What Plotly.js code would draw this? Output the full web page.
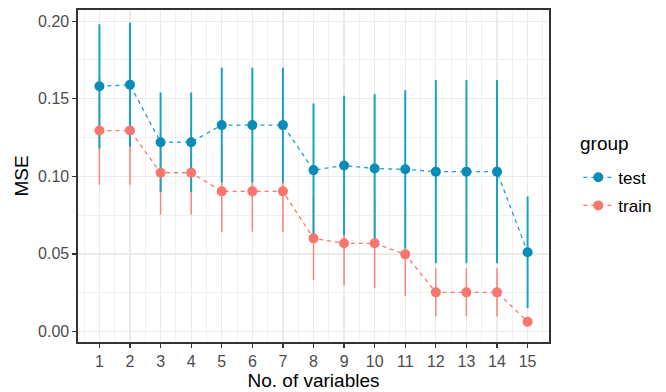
<!DOCTYPE html>
<html>
<head>
<meta charset="utf-8">
<script src="https://cdn.plot.ly/plotly-3.0.1.min.js"></script>
<style>html,body{margin:0;padding:0;background:#fff;}#chart{width:666px;height:392px;}</style>
</head>
<body>
<div id="chart"></div>
<script>
const nVars = [1,2,3,4,5,6,7,8,9,10,11,12,13,14,15];
const testMSE = [0.158,0.159,0.122,0.122,0.133,0.133,0.133,0.104,0.107,0.105,0.1045,0.103,0.103,0.103,0.051];
const testErr = [0.040,0.040,0.032,0.032,0.037,0.037,0.037,0.043,0.045,0.048,0.051,0.059,0.059,0.059,0.036];
const trainMSE = [0.1295,0.1295,0.1023,0.1023,0.0903,0.0903,0.0903,0.0600,0.0568,0.0568,0.0497,0.0252,0.0252,0.0252,0.0063];
const trainErr = [0.035,0.035,0.027,0.027,0.026,0.026,0.026,0.027,0.027,0.029,0.027,0.0155,0.0155,0.0155,0.002];
const groups = ["test","train"];
const legendTitle = "group";

const testBlue = "#17A2CC", testDark = "#0A8CB9";
const trainRed = "#F8766D";
const font = "Liberation Sans, Arial, sans-serif";

const traces = [
  {x:nVars, y:trainMSE, type:"scatter", mode:"markers", showlegend:false, hoverinfo:"skip",
   marker:{size:1, color:"rgba(0,0,0,0)"},
   error_y:{type:"data", array:trainErr, visible:true, color:"#F9847B", thickness:1.5, width:0}},
  {x:nVars, y:testMSE, type:"scatter", mode:"markers", showlegend:false, hoverinfo:"skip",
   marker:{size:1, color:"rgba(0,0,0,0)"},
   error_y:{type:"data", array:testErr, visible:true, color:testBlue, thickness:2, width:0}},
  {x:nVars, y:testMSE, type:"scatter", mode:"lines+markers", name:groups[0], legendgroup:"a",
   line:{color:testBlue, width:1.3, dash:"4px,4px"},
   marker:{size:10, color:testDark}},
  {x:nVars, y:trainMSE, type:"scatter", mode:"lines+markers", name:groups[1], legendgroup:"b",
   line:{color:trainRed, width:1.3, dash:"4px,4px"},
   marker:{size:10, color:trainRed}}
];

const layout = {
  width:666, height:392,
  margin:{l:78, r:116, t:10, b:50},
  paper_bgcolor:"#fff", plot_bgcolor:"#fff",
  font:{family:font, size:16, color:"#4D4D4D"},
  xaxis:{
    range:[0.3,15.7], tickmode:"array", tickvals:nVars, ticktext:nVars.map(String),
    showgrid:true, gridcolor:"#EBEBEB", gridwidth:1.3,
    minor:{tickmode:"array", tickvals:[0.5,1.5,2.5,3.5,4.5,5.5,6.5,7.5,8.5,9.5,10.5,11.5,12.5,13.5,14.5,15.5], showgrid:true, gridcolor:"#F0F0F0", gridwidth:1},
    zeroline:false, showline:true, linecolor:"#333333", linewidth:1.6, mirror:true,
    ticks:"outside", ticklen:4, tickcolor:"#333333", tickwidth:1.3,
    tickfont:{family:font, size:16, color:"#4D4D4D"},
    title:{text:"No. of variables", font:{family:font, size:19, color:"#000"}, standoff:4}
  },
  yaxis:{
    range:[-0.0068,0.2072], tickmode:"array", tickvals:[0,0.05,0.10,0.15,0.20], ticktext:["0.00","0.05","0.10","0.15","0.20"],
    showgrid:true, gridcolor:"#EBEBEB", gridwidth:1.3,
    minor:{tickmode:"array", tickvals:[0.025,0.075,0.125,0.175], showgrid:true, gridcolor:"#F0F0F0", gridwidth:1},
    zeroline:false, showline:true, linecolor:"#333333", linewidth:1.6, mirror:true,
    ticks:"outside", ticklen:4, tickcolor:"#333333", tickwidth:1.3,
    tickfont:{family:font, size:16, color:"#4D4D4D"},
    title:{text:"MSE", font:{family:font, size:19, color:"#000"}, standoff:4}
  },
  legend:{
    x:1.06, xanchor:"left", y:0.549, yanchor:"top",
    font:{family:font, size:17, color:"#000"},
    bgcolor:"rgba(0,0,0,0)", itemwidth:30, tracegroupgap:3
  },
  annotations:[{
    text:legendTitle, xref:"paper", yref:"paper", x:1.062, y:0.599, xanchor:"left", yanchor:"middle",
    showarrow:false, font:{family:font, size:19, color:"#000"}
  }]
};

Plotly.newPlot("chart", traces, layout, {displayModeBar:false, staticPlot:true});
</script>
</body>
</html>
